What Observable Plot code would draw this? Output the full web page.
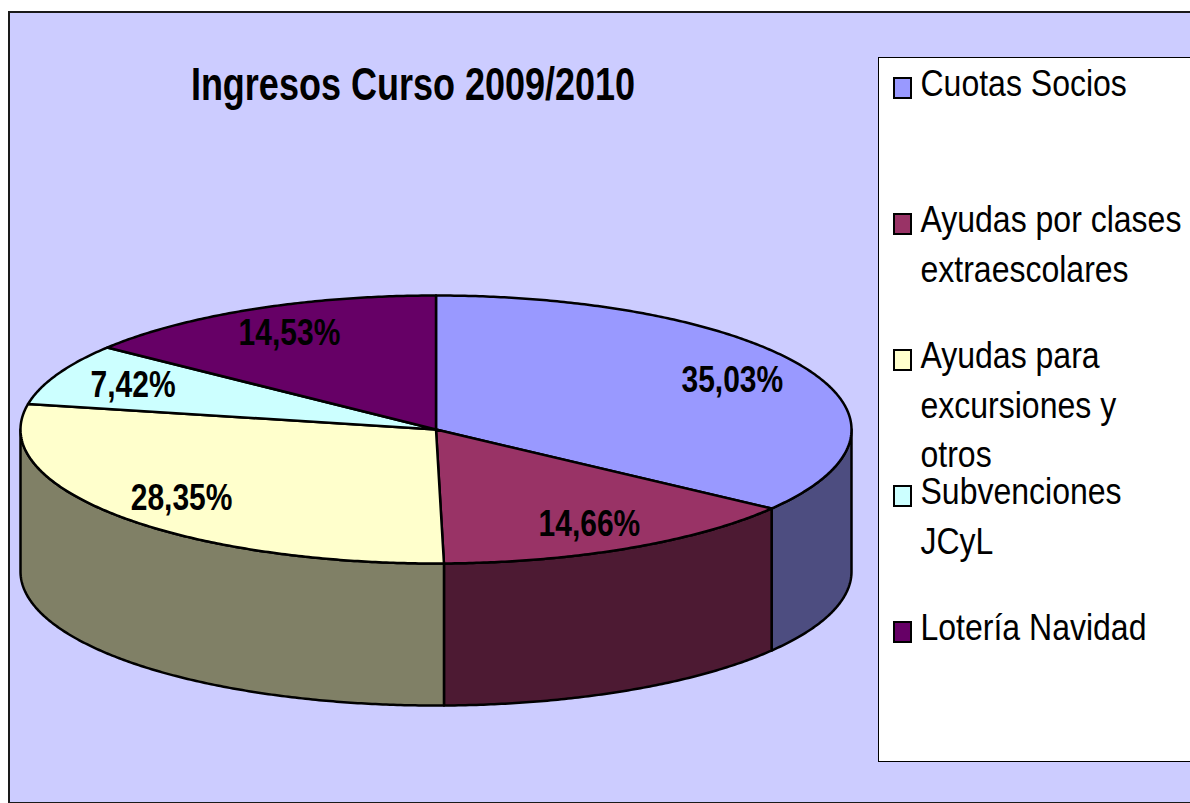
<!DOCTYPE html>
<html><head><meta charset="utf-8">
<script src="https://cdn.jsdelivr.net/npm/d3@7"></script>
<script src="https://cdn.jsdelivr.net/npm/@observablehq/plot@0.6"></script>
<style>
html,body{margin:0;padding:0;background:#fff;width:1190px;height:803px;overflow:hidden;position:relative;font-family:"Liberation Sans",Arial,sans-serif;}
#panel{position:absolute;left:8px;top:11px;width:1200px;height:789px;background:#CCCCFF;border:2px solid #1a1a1a;}
#chart{position:absolute;left:0;top:0;}
#title{position:absolute;left:0;top:62px;width:826px;text-align:center;font-weight:bold;font-size:36px;line-height:36px;transform:scaleY(1.27);transform-origin:top;color:#000;white-space:nowrap;}
#legend{position:absolute;left:878px;top:57px;width:330px;height:703px;background:#fff;border:1.5px solid #000;}
.sw{position:absolute;left:13.5px;width:19px;height:22px;box-sizing:border-box;border:2px solid #000;}
.lt{position:absolute;left:41.5px;width:268px;font-size:32px;line-height:42px;transform:scaleY(1.17);transform-origin:top left;color:#000;}
</style>
</head><body>
<div id="panel"></div>
<div id="chart"></div>
<div id="title"></div>
<div id="legend"></div>
<script>
// ---- data ----
const title = "Ingresos Curso 2009/2010";
const categories = ["Cuotas Socios", "Ayudas por clases extraescolares", "Ayudas para excursiones y otros", "Subvenciones JCyL", "Lotería Navidad"];
const values = [35.03, 14.66, 28.35, 7.42, 14.53];
const labels = ["35,03%", "14,66%", "28,35%", "7,42%", "14,53%"];
const colors = ["#9999FF", "#993366", "#FFFFCC", "#CCFFFF", "#660066"];

// ---- geometry (derived from values) ----
const depth = 1.06;       // wall height in units of the ellipse's vertical radius
const labelR = 0.8;
const total = d3.sum(values);
const toRad = Math.PI / 180;
let acc = 0;
const slices = values.map((v, i) => {
  const a0 = acc / total * 360; acc += v; const a1 = acc / total * 360;
  return {i, a0, a1};
});
const pt = (deg, dy = 0) => ({x: Math.sin(deg * toRad), y: -Math.cos(deg * toRad) + dy});
function arc(a0, a1, dy = 0) {
  const n = Math.max(2, Math.ceil((a1 - a0) / 0.5));
  return d3.range(n + 1).map(k => pt(a0 + (a1 - a0) * k / n, dy));
}
function darker(c) {
  const r = d3.rgb(c);
  return d3.rgb(r.r * 0.5, r.g * 0.5, r.b * 0.5).formatHex();
}
const marks = [];
// walls (front half: 90..270 deg)
for (const s of slices) {
  const a = Math.max(s.a0, 90), b = Math.min(s.a1, 270);
  if (b > a) {
    const poly = [...arc(a, b), ...arc(a, b, depth).reverse()];
    marks.push(Plot.line(poly, {x: "x", y: "y", curve: "linear-closed", fill: darker(colors[s.i]), stroke: "#000", strokeWidth: 2.5, strokeLinejoin: "round"}));
  }
}
// top faces
for (const s of slices) {
  const poly = [{x: 0, y: 0}, ...arc(s.a0, s.a1)];
  marks.push(Plot.line(poly, {x: "x", y: "y", curve: "linear-closed", fill: colors[s.i], stroke: "#000", strokeWidth: 2.5, strokeLinejoin: "round"}));
}
// labels
const labelData = slices.map(s => {
  const m = (s.a0 + s.a1) / 2;
  return {x: labelR * Math.sin(m * toRad), y: -labelR * Math.cos(m * toRad), t: labels[s.i]};
});
marks.push(Plot.text(labelData, {x: "x", y: "y", text: "t", fontSize: 30, fontWeight: "bold", fontFamily: "Liberation Sans, Arial, sans-serif", fill: "#000"}));

const svg = Plot.plot({
  width: 1190, height: 803,
  margin: 0,
  x: {domain: [-1, 1], range: [20, 851], axis: null},
  y: {domain: [-1, 1], range: [295, 563], axis: null},
  style: {background: "transparent", overflow: "visible"},
  marks
});
svg.querySelectorAll('g[aria-label="text"] text').forEach(t => {
  const tr = t.getAttribute("transform");
  if (tr) t.setAttribute("transform", tr + " scale(1,1.2)");
  else {
    const x = t.getAttribute("x") || 0, y = t.getAttribute("y") || 0;
    t.removeAttribute("x"); t.removeAttribute("y");
    t.setAttribute("transform", `translate(${x},${y}) scale(1,1.2)`);
  }
});
document.getElementById("chart").appendChild(svg);

// title
document.getElementById("title").textContent = title;

// legend
const lg = document.getElementById("legend");
categories.forEach((c, i) => {
  const sw = document.createElement("div");
  sw.className = "sw"; sw.style.top = (18.5 + 136 * i) + "px"; sw.style.background = colors[i];
  lg.appendChild(sw);
  const t = document.createElement("div");
  t.className = "lt"; t.style.top = (1 + 136 * i) + "px"; t.textContent = c;
  lg.appendChild(t);
});
</script>
</body></html>
